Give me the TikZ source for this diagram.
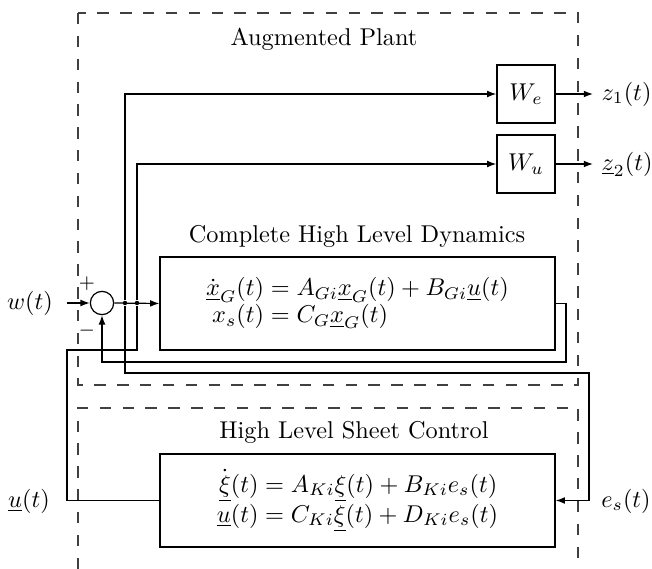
\documentclass[tikz,border=0pt]{standalone}
\usepackage{amsmath}
\usetikzlibrary{arrows.meta}
\begin{document}
\begin{tikzpicture}[x=0.4115pt,y=-0.4115pt,
  sig/.style={line width=0.5pt},
  arr/.style={sig,-{Latex[length=3.8pt,width=2.8pt]}},
  blk/.style={draw,sig,inner sep=0pt,minimum width=162.6pt,minimum height=38.3pt},
  wblk/.style={draw,sig,inner sep=0pt,minimum size=23.9pt},
  frame/.style={line width=0.45pt,dash pattern=on 4.7pt off 4.7pt,black!75},
  jdot/.style={circle,fill,inner sep=0pt,minimum size=1.8pt},
  lbl/.style={inner sep=0pt}]
\useasboundingbox (0,0) rectangle (652,569);
% frames
\draw[frame] (78,13) rectangle (578,385);
\draw[frame] (78,569) -- (78,408) -- (578,408) -- (578,569);
% titles
\node[lbl] (tAP) at (324,39) {Augmented Plant};
\node[lbl] (tCD) at (357,236) {Complete High Level Dynamics};
\node[lbl] (tHC) at (354,432) {High Level Sheet Control};
% blocks
\node[wblk] (We) at (526,94) {$W_e$};
\node[wblk] (Wu) at (526,164) {$W_u$};
\node[blk] (dyn) at (357.5,303.5) {$\begin{aligned}\dot{\underline{x}}_G(t) &= A_{Gi}\underline{x}_G(t)+B_{Gi}\underline{u}(t)\\[-4pt] x_s(t) &= C_G\underline{x}_G(t)\end{aligned}$};
\node[blk] (ctrl) at (357.5,500.5) {$\begin{aligned}\dot{\underline{\xi}}(t) &= A_{Ki}\underline{\xi}(t)+B_{Ki}e_s(t)\\[-4pt] \underline{u}(t) &= C_{Ki}\underline{\xi}(t)+D_{Ki}e_s(t)\end{aligned}$};
\node[circle,draw,sig,minimum size=9.6pt,inner sep=0pt] (sum) at (102,303) {};
% labels
\node (w) at (30,303) {$w(t)$};
\node (pl) at (87,284) {\footnotesize$+$};
\node (mi) at (87,331) {\footnotesize$-$};
\node[anchor=west] (z1) at (593,94) {$z_1(t)$};
\node[anchor=west] (z2) at (593,164) {$\underline{z}_2(t)$};
\node (u) at (29,501) {$\underline{u}(t)$};
\node (es) at (626,501) {$e_s(t)$};
% junctions and bends
\node[jdot] (j1) at (125,303) {};
\node[jdot] (j2) at (137,303) {};
\coordinate (win) at (67,303);
\coordinate (dr) at (566,303.5);
\coordinate (db) at (566,362);
\coordinate (bl1) at (125,373);
\coordinate (br1) at (589,373);
\coordinate (ul) at (67,350);
% connectors
\draw[arr] (win) -- (sum.west);
\draw[arr] (sum.east) -- (dyn.west);
\draw[arr] (j1) |- (We.west);
\draw[arr] (j2) |- (Wu.west);
\draw[arr] (We.east) -- (We.east -| z1.west);
\draw[arr] (Wu.east) -- (Wu.east -| z2.west);
\draw[arr] (dyn.east) -- (dr) -- (db) -| (sum.south);
\draw[arr] (j1) -- (bl1) -- (br1) |- (ctrl.east);
\draw[sig] (ctrl.west) -| (ul) -| (j2);
\end{tikzpicture}
\end{document}
